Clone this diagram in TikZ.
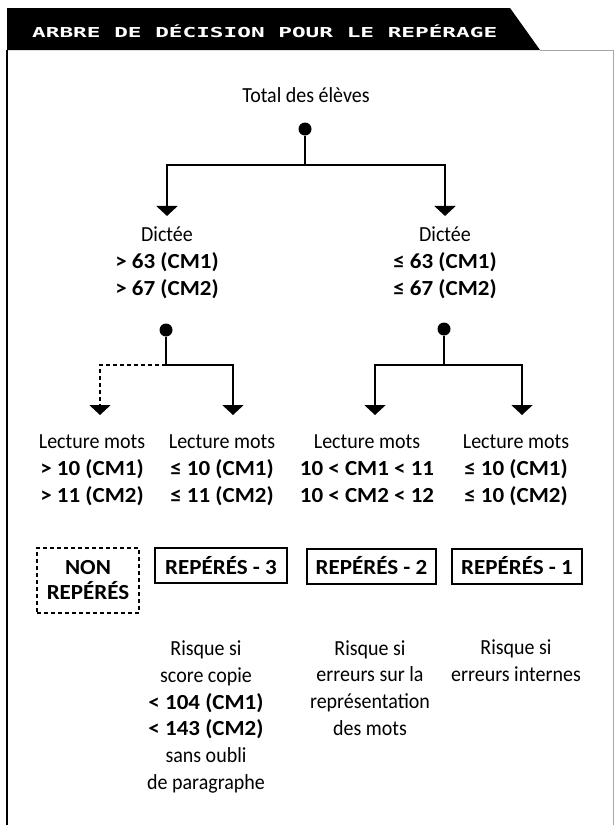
\documentclass[tikz,border=0pt]{standalone}
\usepackage{fontspec}
\usepackage{graphicx}
\setmainfont[UprightFeatures={FakeStretch=0.93}, BoldFeatures={FakeStretch=1.07}]{Carlito}
\newfontfamily\headfont{DejaVu Sans Mono}
\usetikzlibrary{arrows.meta, positioning}

\begin{document}
\begin{tikzpicture}[x=1pt, y=-1pt,
    txt/.style={align=center, inner sep=0pt, font=\fontsize{21.5}{26.8}\selectfont},
    dot/.style={circle, fill=black, inner sep=0pt, minimum size=13pt},
    branch/.style={line width=2.2pt},
    arr/.style={branch, -{Triangle[width=21pt, length=10pt]}},
    dashline/.style={dash pattern=on 4pt off 3pt},
    result/.style={draw, line width=2pt, inner sep=0pt, minimum height=35pt,
        align=center, font=\fontsize{21.5}{25}\selectfont\bfseries}]
    \useasboundingbox (0,0) rectangle (614,825);

    % Header and frame
    \fill (7,8) -- (510,8) -- (540,50) -- (7,50) -- cycle;
    \node[anchor=base west, text=white, inner sep=0pt] (title) at (32,37)
        {\resizebox{465pt}{\height}{\headfont\bfseries\fontsize{13.7}{14}\selectfont ARBRE DE DÉCISION POUR LE REPÉRAGE}};
    \draw[line width=1.3pt] (7,50) -- (7,825);
    \draw[black!35, line width=0.8pt] (540,50) -- (613,50) -- (613,825);

    % Level 0
    \node[txt] (total) at (306,95) {Total des élèves};
    \node[dot] (d0) at (305,129) {};
    \coordinate (b0) at (305,165);

    % Dictation
    \node[txt] (dictL) at (167,263) {Dictée\\\textbf{> 63 (CM1)}\\\textbf{> 67 (CM2)}};
    \node[txt] (dictR) at (445,263) {Dictée\\\textbf{≤ 63 (CM1)}\\\textbf{≤ 67 (CM2)}};
    \draw[branch] (d0) -- (b0);
    \draw[arr, shorten >=11pt] (b0) -| (dictL.north);
    \draw[arr, shorten >=11pt] (b0) -| (dictR.north);

    % Level 1
    \node[dot] (d1) at (166,330) {};
    \node[dot] (d2) at (444,329) {};
    \coordinate (b1) at (166,365);
    \coordinate (b2) at (444,365);
    \coordinate (tip1) at (100,415);
    \coordinate (tip2) at (233,415);
    \coordinate (tip3) at (375,415);
    \coordinate (tip4) at (522,415);
    \draw[branch] (d1) -- (b1);
    \draw[branch] (d2) -- (b2);
    \draw[arr, dashline] (b1) -| (tip1);
    \draw[arr] (b1) -| (tip2);
    \draw[arr] (b2) -| (tip3);
    \draw[arr] (b2) -| (tip4);

    % Word reading
    \node[txt] (lec1) at (92,470) {Lecture mots\\\textbf{> 10 (CM1)}\\\textbf{> 11 (CM2)}};
    \node[txt] (lec2) at (222,470) {Lecture mots\\\textbf{≤ 10 (CM1)}\\\textbf{≤ 11 (CM2)}};
    \node[txt] (lec3) at (367,468.5) {Lecture mots\\\textbf{10 < CM1 < 11}\\\textbf{10 < CM2 < 12}};
    \node[txt] (lec4) at (516,470) {Lecture mots\\\textbf{≤ 10 (CM1)}\\\textbf{≤ 10 (CM2)}};

    % Outcome boxes
    \node[result, dashline, minimum width=102pt, minimum height=65pt] (non) at (88,580.5) {NON\\REPÉRÉS};
    \node[result, minimum width=132pt] (rep3) at (221,565.5) {REPÉRÉS - 3};
    \node[result, minimum width=129pt] (rep2) at (371.5,566) {REPÉRÉS - 2};
    \node[result, minimum width=130pt] (rep1) at (517,566) {REPÉRÉS - 1};

    % Risk notes
    \node[txt] (risk3) at (206,717) {Risque si\\score copie\\\textbf{< 104 (CM1)}\\\textbf{< 143 (CM2)}\\sans oubli\\de paragraphe};
    \node[txt] (risk2) at (370,688) {Risque si\\erreurs sur la\\représentation\\des mots};
    \node[txt] (risk1) at (516,661) {Risque si\\erreurs internes};
\end{tikzpicture}
\end{document}
